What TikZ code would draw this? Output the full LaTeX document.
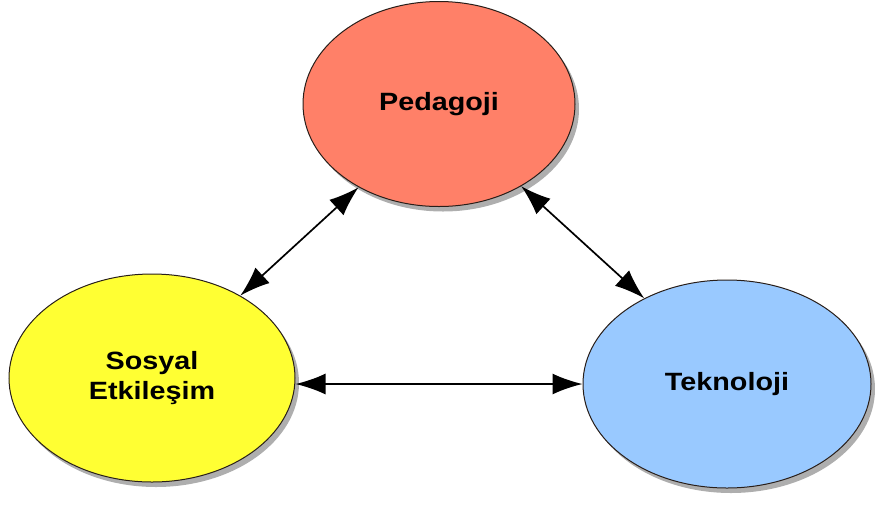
\documentclass[tikz,border=0pt]{standalone}
\usepackage{fontspec}
\setmainfont{Liberation Sans}[FakeStretch=1.15]
\usetikzlibrary{shapes.geometric,arrows.meta,shadows}
\definecolor{pedfill}{RGB}{255,128,104}
\definecolor{sosfill}{RGB}{255,255,51}
\definecolor{tekfill}{RGB}{153,201,255}
\definecolor{rim}{RGB}{40,30,25}
\begin{document}
\begin{tikzpicture}[x=1pt,y=-1pt,
  topic/.style={ellipse, draw=rim, line width=1pt, inner sep=0pt,
    align=center, font=\fontsize{25}{30}\selectfont\bfseries,
    drop shadow={shadow xshift=4pt, shadow yshift=-5pt, fill=black!45, opacity=0.7}},
  tip/.style={Latex[length=30pt,width=21pt]},
  link/.style={{Latex[length=30pt,width=21pt]}-{Latex[length=30pt,width=21pt]}, line width=1.7pt}]
\useasboundingbox (0,0) rectangle (875,504);
\node[topic, fill=pedfill, minimum width=272pt, minimum height=205pt] (ped) at (439,104) {Pedagoji};
\node[topic, fill=sosfill, minimum width=286pt, minimum height=208pt] (sos) at (152,378) {Sosyal\\Etkileşim};
\node[topic, fill=tekfill, minimum width=288pt, minimum height=208pt] (tek) at (727,384) {Teknoloji};
\draw[link] (sos.43) -- (ped.226);
\draw[link] (ped.315) -- (tek.134);
\draw[link] (tek.west -| sos.east) -- (tek.west);
\end{tikzpicture}
\end{document}
